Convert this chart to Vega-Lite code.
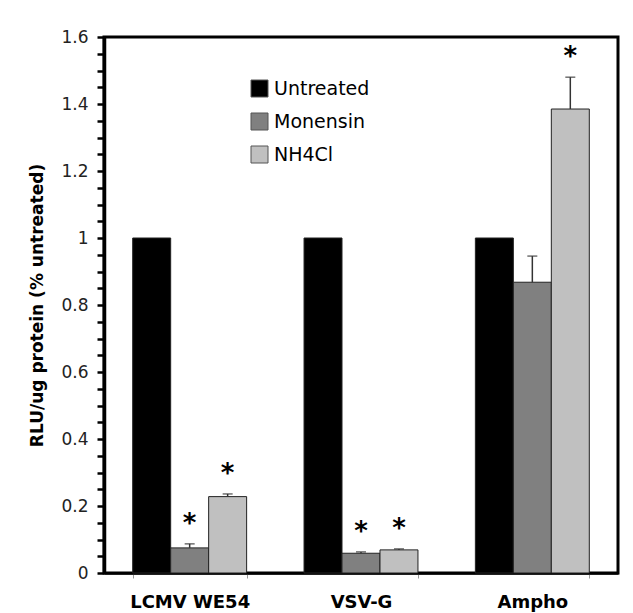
{
  "$schema": "https://vega.github.io/schema/vega-lite/v6.json",
  "autosize": {"type": "none"},
  "width": 514,
  "height": 536,
  "padding": {"left": 104, "top": 37, "right": 15, "bottom": 40},
  "background": "white",
  "config": {
    "font": "DejaVu Sans",
    "view": {"stroke": "#000000", "strokeWidth": 3},
    "axis": {"grid": false},
    "axisY": {"domainColor": "#000000", "domainWidth": 3.5, "tickColor": "#000000", "tickWidth": 2.5, "tickSize": 7, "ticks": true, "domain": true}
  },
  "data": {
    "values": [
      {"group": "LCMV WE54", "treatment": "Untreated", "value": 1.0, "err": null, "sig": ""},
      {"group": "LCMV WE54", "treatment": "Monensin", "value": 0.075, "err": 0.087, "sig": "*"},
      {"group": "LCMV WE54", "treatment": "NH4Cl", "value": 0.228, "err": 0.236, "sig": "*"},
      {"group": "VSV-G", "treatment": "Untreated", "value": 1.0, "err": null, "sig": ""},
      {"group": "VSV-G", "treatment": "Monensin", "value": 0.059, "err": 0.063, "sig": "*"},
      {"group": "VSV-G", "treatment": "NH4Cl", "value": 0.069, "err": 0.072, "sig": "*"},
      {"group": "Ampho", "treatment": "Untreated", "value": 1.0, "err": null, "sig": ""},
      {"group": "Ampho", "treatment": "Monensin", "value": 0.868, "err": 0.946, "sig": ""},
      {"group": "Ampho", "treatment": "NH4Cl", "value": 1.385, "err": 1.48, "sig": "*"}
    ]
  },
  "encoding": {
    "x": {
      "field": "group", "type": "nominal",
      "sort": ["LCMV WE54", "VSV-G", "Ampho"],
      "scale": {"paddingInner": 0.335, "paddingOuter": 0.1675},
      "axis": {
        "title": null, "labelAngle": 0, "labelFontSize": 18, "labelFontWeight": "bold",
        "labelColor": "#000000", "labelPadding": 15, "tickBand": "extent",
        "tickColor": "#999999", "tickSize": 5, "tickWidth": 1,
        "domainColor": "#000000", "domainWidth": 2.5
      }
    },
    "xOffset": {
      "field": "treatment", "type": "nominal",
      "sort": ["Untreated", "Monensin", "NH4Cl"],
      "scale": {"paddingInner": 0, "paddingOuter": 0}
    },
    "y": {
      "field": "value", "type": "quantitative",
      "scale": {"domain": [0, 1.6], "nice": false},
      "axis": {
        "title": "RLU/ug protein (% untreated)",
        "titleFontSize": 17, "titleFontWeight": "bold", "titleColor": "#000000", "titlePadding": 14,
        "values": [0,0.05,0.1,0.15,0.2,0.25,0.3,0.35,0.4,0.45,0.5,0.55,0.6,0.65,0.7,0.75,0.8,0.85,0.9,0.95,1,1.05,1.1,1.15,1.2,1.25,1.3,1.35,1.4,1.45,1.5,1.55,1.6],
        "labelExpr": "round(datum.value*100) % 20 == 0 ? '' + round(datum.value*10)/10 : ''",
        "labelFontSize": 17, "labelColor": "#222222", "labelPadding": 9,
        "domainColor": "#000000", "domainWidth": 3.5,
        "tickColor": "#000000", "tickWidth": 2.5, "tickSize": 7
      }
    }
  },
  "layer": [
    {
      "mark": {"type": "bar", "stroke": "#222222", "strokeWidth": 1},
      "encoding": {
        "color": {
          "field": "treatment", "type": "nominal",
          "sort": ["Untreated", "Monensin", "NH4Cl"],
          "scale": {"domain": ["Untreated", "Monensin", "NH4Cl"], "range": ["#000000", "#808080", "#c0c0c0"]},
          "legend": {
            "title": null, "orient": "none", "legendX": 146, "legendY": 42,
            "symbolType": "square", "symbolSize": 289, "symbolStrokeColor": "#555555", "symbolStrokeWidth": 1,
            "labelFontSize": 19, "labelColor": "#000000", "labelOffset": 5, "rowPadding": 12, "padding": 0
          }
        }
      }
    },
    {
      "transform": [{"filter": "datum.err != null"}],
      "mark": {"type": "rule", "color": "#333333", "strokeWidth": 1.5},
      "encoding": {
        "y2": {"field": "err"}
      }
    },
    {
      "transform": [{"filter": "datum.err != null"}],
      "mark": {"type": "tick", "color": "#333333", "thickness": 1.5, "size": 10, "orient": "horizontal"},
      "encoding": {
        "y": {"field": "err", "type": "quantitative", "title": "RLU/ug protein (% untreated)"}
      }
    },
    {
      "transform": [{"filter": "datum.sig != ''"}],
      "mark": {"type": "text", "fontSize": 26, "fontWeight": "bold", "baseline": "middle", "dy": -20, "color": "#000000"},
      "encoding": {
        "y": {"field": "err", "type": "quantitative", "title": "RLU/ug protein (% untreated)"},
        "text": {"field": "sig"}
      }
    }
  ]
}
